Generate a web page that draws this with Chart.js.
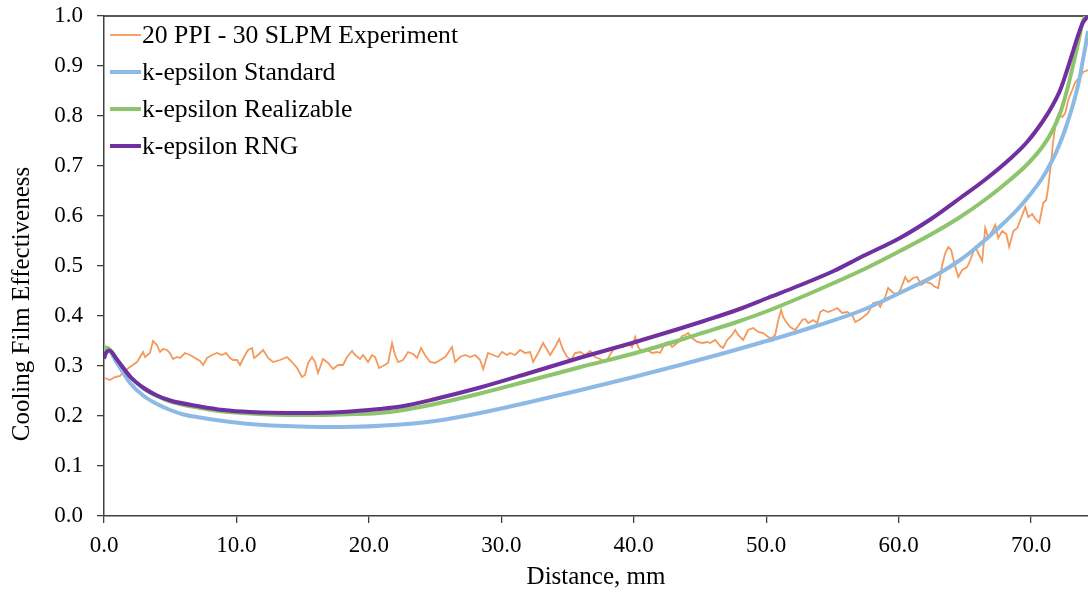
<!DOCTYPE html>
<html>
<head>
<meta charset="utf-8">
<script src="https://cdn.jsdelivr.net/npm/chart.js@4/dist/chart.umd.min.js"></script>
<style>
  body { margin: 0; background: #fff; }
</style>
</head>
<body>
<canvas id="chart" width="1088" height="592"></canvas>
<script>
// series labels
const seriesLabels = ["20 PPI - 30 SLPM Experiment", "k-epsilon Standard", "k-epsilon Realizable", "k-epsilon RNG"];

// experiment (distance mm, effectiveness)
const expX = [0.08,0.45,0.83,1.21,1.44,1.96,2.49,2.95,3.10,3.47,3.70,4.00,4.23,4.46,4.76,4.98,5.21,5.51,5.74,6.12,6.50,6.87,7.25,7.48,7.78,8.16,8.53,8.91,9.21,9.52,9.74,10.05,10.27,10.65,10.88,11.18,11.33,11.63,12.01,12.16,12.39,12.76,13.29,13.82,14.20,14.58,14.95,15.18,15.41,
  15.71,15.94,16.16,16.54,16.92,17.30,17.67,18.05,18.35,18.73,18.96,19.34,19.56,19.94,20.24,20.47,20.77,21.07,21.45,21.75,21.98,22.21,22.58,22.96,23.34,23.64,23.94,24.24,24.62,25.00,25.38,25.76,26.28,26.51,26.89,27.27,27.64,28.02,28.40,28.63,29.00,29.38,29.76,30.06,30.44,
  30.66,31.04,31.42,31.80,32.18,32.40,32.78,33.16,33.46,33.69,34.06,34.37,34.67,34.97,35.27,35.57,35.95,36.33,36.71,37.08,37.46,37.84,38.07,38.44,38.82,39.20,39.58,39.88,40.11,40.33,40.63,41.01,41.39,41.77,41.99,42.37,42.60,42.90,43.28,43.66,43.88,44.11,44.41,44.79,45.17,45.54,
  45.77,46.15,46.53,46.75,47.05,47.43,47.66,47.89,48.26,48.64,49.02,49.40,49.77,50.15,50.45,50.68,50.91,51.13,51.28,51.51,51.81,52.19,52.42,52.72,52.95,53.17,53.55,53.85,54.08,54.31,54.68,55.06,55.36,55.74,56.12,56.50,56.72,57.02,57.33,57.70,58.08,58.38,58.61,58.99,59.21,59.52,59.89,
  60.12,60.50,60.73,61.10,61.40,61.71,62.01,62.39,62.76,62.99,63.29,63.52,63.75,63.97,64.20,64.50,64.80,65.18,65.41,65.79,66.01,66.31,66.54,66.77,67.07,67.30,67.52,67.82,68.13,68.35,68.66,68.96,69.34,69.56,69.79,70.09,70.32,70.62,70.92,71.15,71.30,71.53,71.68,71.90,72.05,72.36,72.58,72.81,73.11,73.34,73.64,73.94,74.32];
const expY = [0.276,0.272,0.278,0.280,0.288,0.298,0.308,0.328,0.318,0.326,0.350,0.342,0.328,0.334,0.332,0.326,0.314,0.318,0.316,0.326,0.322,0.316,0.310,0.302,0.316,0.322,0.326,0.322,0.326,0.316,0.312,0.312,0.302,0.322,0.332,0.336,0.316,0.322,0.332,0.326,0.316,0.308,0.312,0.318,0.308,0.296,0.278,0.282,0.306,
  0.318,0.308,0.286,0.314,0.306,0.294,0.302,0.302,0.318,0.330,0.322,0.314,0.322,0.308,0.322,0.318,0.296,0.300,0.306,0.346,0.322,0.308,0.312,0.328,0.324,0.316,0.336,0.322,0.308,0.306,0.312,0.318,0.338,0.308,0.318,0.322,0.318,0.322,0.312,0.294,0.326,0.322,0.318,0.328,0.322,
  0.326,0.322,0.332,0.326,0.328,0.308,0.326,0.346,0.332,0.322,0.338,0.354,0.332,0.318,0.312,0.326,0.328,0.322,0.330,0.318,0.314,0.308,0.316,0.332,0.338,0.338,0.346,0.338,0.358,0.338,0.328,0.332,0.326,0.328,0.326,0.346,0.348,0.338,0.346,0.360,0.362,0.366,0.356,0.348,0.346,0.348,
  0.346,0.352,0.340,0.336,0.352,0.362,0.372,0.362,0.352,0.372,0.376,0.368,0.366,0.358,0.356,0.362,0.392,0.412,0.398,0.388,0.378,0.372,0.380,0.392,0.394,0.386,0.392,0.386,0.408,0.412,0.408,0.412,0.416,0.406,0.408,0.402,0.388,0.392,0.398,0.406,0.426,0.428,0.418,0.438,0.456,0.448,0.442,
  0.452,0.478,0.468,0.476,0.478,0.462,0.468,0.466,0.458,0.456,0.502,0.526,0.538,0.532,0.506,0.478,0.492,0.498,0.512,0.538,0.526,0.510,0.576,0.556,0.570,0.582,0.556,0.570,0.564,0.538,0.570,0.576,0.602,0.618,0.598,0.604,0.594,0.586,0.626,0.632,0.658,0.712,0.752,0.792,0.802,0.798,0.806,0.832,0.852,0.868,0.876,0.888,0.892];

// k-epsilon Standard
const stdX = [0,0.3,1,2,3,4,5,6,7.25,9,11,14.8,18,22.4,25,28.4,32,36,40,43.5,47,49.5,51.1,54,57.1,60,62.9,64.65,66,67.7,69,69.9,70.8,71.5,72.1,72.6,73,73.4,73.7,73.9,74.1,74.3];
const stdY = [0.328,0.332,0.305,0.265,0.240,0.224,0.212,0.203,0.197,0.190,0.184,0.179,0.178,0.183,0.190,0.206,0.227,0.252,0.278,0.302,0.327,0.346,0.358,0.382,0.410,0.445,0.483,0.512,0.540,0.580,0.614,0.642,0.674,0.706,0.740,0.775,0.808,0.845,0.880,0.910,0.938,0.970];

// k-epsilon Realizable
const relX = [0,0.3,1,2,3,4,5,7.25,9,11,14.8,18,20.8,22.4,25,28.4,32,36,40,43.5,45.3,48,50.1,52.5,55.1,57.5,60.1,62.5,64.65,66.5,68.4,69.7,70.9,71.6,72.2,72.7,73.2,73.6,73.9,74.1];
const relY = [0.337,0.336,0.312,0.278,0.255,0.240,0.229,0.216,0.209,0.205,0.202,0.203,0.206,0.211,0.224,0.245,0.270,0.298,0.325,0.352,0.367,0.390,0.410,0.436,0.466,0.495,0.530,0.564,0.598,0.632,0.672,0.703,0.740,0.770,0.806,0.850,0.905,0.952,0.988,1.000];

// k-epsilon RNG
const rngX = [0,0.15,0.4,1,2,3,4,5,7.25,9,11,14.8,18,20.8,22.4,25,28.4,32,36,40,43.5,45.3,48,50.1,52.5,55.1,57.1,60.1,62.5,64.65,66.5,68.4,69.7,70.9,71.6,72.2,72.7,73.2,73.6,73.9,74.3];
const rngY = [0.315,0.326,0.331,0.312,0.278,0.256,0.241,0.231,0.219,0.212,0.208,0.206,0.208,0.214,0.219,0.234,0.257,0.285,0.317,0.347,0.375,0.390,0.414,0.436,0.461,0.490,0.517,0.556,0.595,0.636,0.672,0.714,0.748,0.790,0.820,0.852,0.890,0.932,0.965,0.986,1.000];

const colors = ["#F4995A", "#8DBAE5", "#8DC56C", "#7030A0"];
const widths = [1.8, 4, 4, 4];

function toPoints(xs, ys) {
    return xs.map((x, i) => ({ x: x, y: ys[i] }));
}

const FONT = "'Liberation Serif', 'Times New Roman', serif";

// legend drawn inside the plot area, top-left
const insideLegend = {
    id: "insideLegend",
    afterDraw(chart) {
        const ctx = chart.ctx;
        const area = chart.chartArea;
        ctx.save();
        ctx.font = "25.7px " + FONT;
        ctx.textBaseline = "middle";
        ctx.fillStyle = "#000";
        chart.data.datasets.forEach((ds, i) => {
            const y = area.top + 19 + i * 37;
            ctx.strokeStyle = ds.borderColor;
            ctx.lineWidth = ds.borderWidth;
            ctx.beginPath();
            ctx.moveTo(area.left + 6, y);
            ctx.lineTo(area.left + 37, y);
            ctx.stroke();
            ctx.fillText(ds.label, area.left + 38, y + 1);
        });
        ctx.restore();
    }
};

// y axis title (sits a bit below the axis centre in the original)
const yTitle = {
    id: "yTitle",
    afterDraw(chart) {
        const ctx = chart.ctx;
        ctx.save();
        ctx.translate(22, 304);
        ctx.rotate(-Math.PI / 2);
        ctx.font = "25px " + FONT;
        ctx.fillStyle = "#000";
        ctx.textAlign = "center";
        ctx.textBaseline = "middle";
        ctx.fillText("Cooling Film Effectiveness", 0, 0);
        ctx.restore();
    }
};

new Chart(document.getElementById("chart"), {
    type: "line",
    data: {
        datasets: [
            { label: seriesLabels[0], data: toPoints(expX, expY), borderColor: colors[0], borderWidth: widths[0], tension: 0, order: 4 },
            { label: seriesLabels[1], data: toPoints(stdX, stdY), borderColor: colors[1], borderWidth: widths[1], cubicInterpolationMode: "monotone", order: 3 },
            { label: seriesLabels[2], data: toPoints(relX, relY), borderColor: colors[2], borderWidth: widths[2], cubicInterpolationMode: "monotone", order: 2 },
            { label: seriesLabels[3], data: toPoints(rngX, rngY), borderColor: colors[3], borderWidth: widths[3], cubicInterpolationMode: "monotone", order: 1 }
        ]
    },
    options: {
        responsive: false,
        animation: false,
        layout: { padding: 0 },
        elements: { point: { radius: 0 } },
        plugins: {
            legend: { display: false },
            tooltip: { enabled: false }
        },
        scales: {
            x: {
                type: "linear",
                min: 0,
                max: 74.3,
                afterFit: function (scale) { scale.height = 76; },
                ticks: {
                    stepSize: 10,
                    includeBounds: false,
                    maxRotation: 0,
                    padding: 9,
                    color: "#000",
                    font: { family: FONT, size: 23 },
                    callback: function (value) { return Number(value).toFixed(1); }
                },
                grid: { drawOnChartArea: false, drawTicks: true, tickLength: 7, color: "#404040", lineWidth: 1.3 },
                border: { display: true, color: "#404040", width: 1.5 },
                title: {
                    display: true,
                    text: "Distance, mm",
                    color: "#000",
                    font: { family: FONT, size: 25 },
                    padding: { top: 0, bottom: 0 }
                }
            },
            x2: {
                type: "linear",
                position: "top",
                min: 0,
                max: 74.3,
                afterFit: function (scale) { scale.height = 16; },
                ticks: { display: false },
                grid: { display: false, drawTicks: false },
                border: { display: true, color: "#595959", width: 2 }
            },
            y: {
                min: 0,
                max: 1,
                afterFit: function (scale) {
                    scale.width = 104;
                    scale.paddingTop = 0;
                    scale.paddingBottom = 0;
                },
                ticks: {
                    stepSize: 0.1,
                    padding: 14,
                    color: "#000",
                    font: { family: FONT, size: 23 },
                    callback: function (value) { return Number(value).toFixed(1); }
                },
                grid: { drawOnChartArea: false, drawTicks: true, tickLength: 7, color: "#404040", lineWidth: 1.3 },
                border: { display: true, color: "#404040", width: 1.5 }
            }
        }
    },
    plugins: [insideLegend, yTitle]
});
</script>
</body>
</html>
